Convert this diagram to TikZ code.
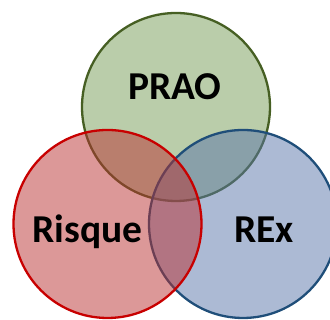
\documentclass[tikz,border=0pt]{standalone}
\usepackage{fontspec}
\setmainfont{Carlito}
\definecolor{gfill}{RGB}{117,155,85}
\definecolor{rfill}{RGB}{185,49,49}
\definecolor{bfill}{RGB}{89,117,169}
\definecolor{gline}{RGB}{70,95,35}
\definecolor{rline}{RGB}{200,0,0}
\definecolor{bline}{RGB}{31,78,121}
\begin{document}
\begin{tikzpicture}[x=1pt,y=1pt,
  setc/.style={circle, minimum size=188pt, inner sep=0pt, line width=2.3pt, fill opacity=0.5},
  lab/.style={font=\bfseries\fontsize{39.5}{39.5}\selectfont, anchor=base, inner sep=0pt}]
\useasboundingbox (0,0) rectangle (330,320);
\begin{scope}
\clip (0,0) rectangle (330,320);
\node[setc, draw=gline, fill=gfill] (prao) at (176,213) {};
\node[setc, draw=bline, fill=bfill] (rex) at (243,96) {};
\node[setc, draw=rline, fill=rfill] (risque) at (107.5,96) {};
\end{scope}
\node[lab] (tprao) at (175,220) {PRAO};
\node[lab] (trisque) at (87.5,77) {Risque};
\node[lab] (trex) at (264,77) {REx};
\end{tikzpicture}
\end{document}
